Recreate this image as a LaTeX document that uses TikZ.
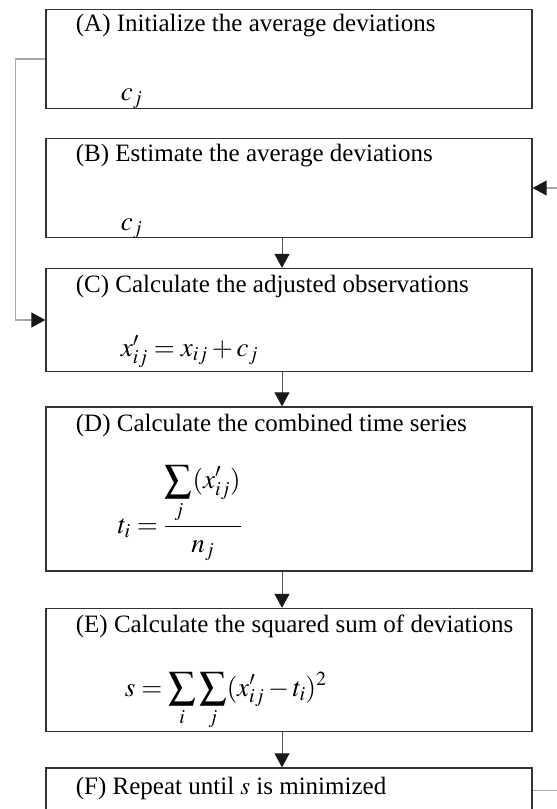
\documentclass[tikz,border=0pt]{standalone}
\usepackage{mathptmx}
\usepackage[no-math]{fontspec}
\setmainfont{Liberation Serif}
\usetikzlibrary{arrows.meta,positioning}
\definecolor{boxgray}{HTML}{333333}
\definecolor{linegray}{HTML}{555555}
\definecolor{loopgray}{HTML}{A8A8A8}

\begin{document}
\begin{tikzpicture}[x=1pt,y=-1pt, every node/.style={font=\fontsize{25}{30}\selectfont},
    stepbox/.style={draw=boxgray,line width=1.3pt,minimum width=486pt,inner sep=0pt},
    formula/.style={anchor=base west,font=\fontsize{27}{32}\selectfont},
    flow/.style={draw=linegray,line width=0.9pt,-{Triangle[length=14pt,width=15pt,color=black!90]}},
    loopline/.style={draw=loopgray,line width=1.2pt,-{Triangle[length=14pt,width=15pt,color=black!90]}}]
      \useasboundingbox (0,0) rectangle (557,809);
      \clip (0,0) rectangle (557,809);
      % boxes
      \node[stepbox,minimum height=99pt] (boxA) at (289,59) {};
      \node[stepbox,minimum height=99pt] (boxB) at (289,188) {};
      \node[stepbox,minimum height=103pt] (boxC) at (289,320) {};
      \node[stepbox,minimum height=164pt] (boxD) at (289,489) {};
      \node[stepbox,minimum height=123pt] (boxE) at (289,670) {};
      \node[stepbox,minimum height=99pt] (boxF) at (289,817.5) {};
      % titles
      \node[anchor=base west] (tA) at ([shift={(27pt,-23pt)}]boxA.north west) {(A) Initialize the average deviations};
      \node[anchor=base west] (tB) at ([shift={(27pt,-24pt)}]boxB.north west) {(B) Estimate the average deviations};
      \node[anchor=base west] (tC) at ([shift={(27pt,-25pt)}]boxC.north west) {(C) Calculate the adjusted observations};
      \node[anchor=base west] (tD) at ([shift={(27pt,-25pt)}]boxD.north west) {(D) Calculate the combined time series};
      \node[anchor=base west] (tE) at ([shift={(27pt,-25pt)}]boxE.north west) {(E) Calculate the squared sum of deviations};
      \node[anchor=base west] (tF) at ([shift={(27pt,-27pt)}]boxF.north west) {(F) Repeat until $s$ is minimized};
      % formulas
      \node[formula] (fA) at ([shift={(72pt,9pt)}]boxA.south west) {$c_j$};
      \node[formula] (fB) at ([shift={(72pt,8pt)}]boxB.south west) {$c_j$};
      \node[formula] (fC) at ([shift={(72pt,16pt)}]boxC.south west) {$x'_{ij} = x_{ij} + c_j$};
      \node[formula] (fD) at ([shift={(69pt,38pt)}]boxD.south west) {$\displaystyle t_i = \frac{\displaystyle\sum_j (x'_{ij})}{n_j}$};
      \node[formula] (fE) at ([shift={(76pt,36pt)}]boxE.south west) {$\displaystyle s = \sum_i \sum_j (x'_{ij} - t_i)^2$};
      % connectors
      \foreach \a/\b in {boxB/boxC,boxC/boxD,boxD/boxE,boxE/boxF}
        \draw[flow] ([xshift=-7pt]\a.south) -- ([xshift=-7pt]\b.north);
      \draw[loopline] (boxA.west) -- ++(-30,0) |- (boxC.west);
      \draw[loopline] ([yshift=-23pt]boxF.north east) -- ++(40,0) |- (boxB.east);
    \end{tikzpicture}
\end{document}
